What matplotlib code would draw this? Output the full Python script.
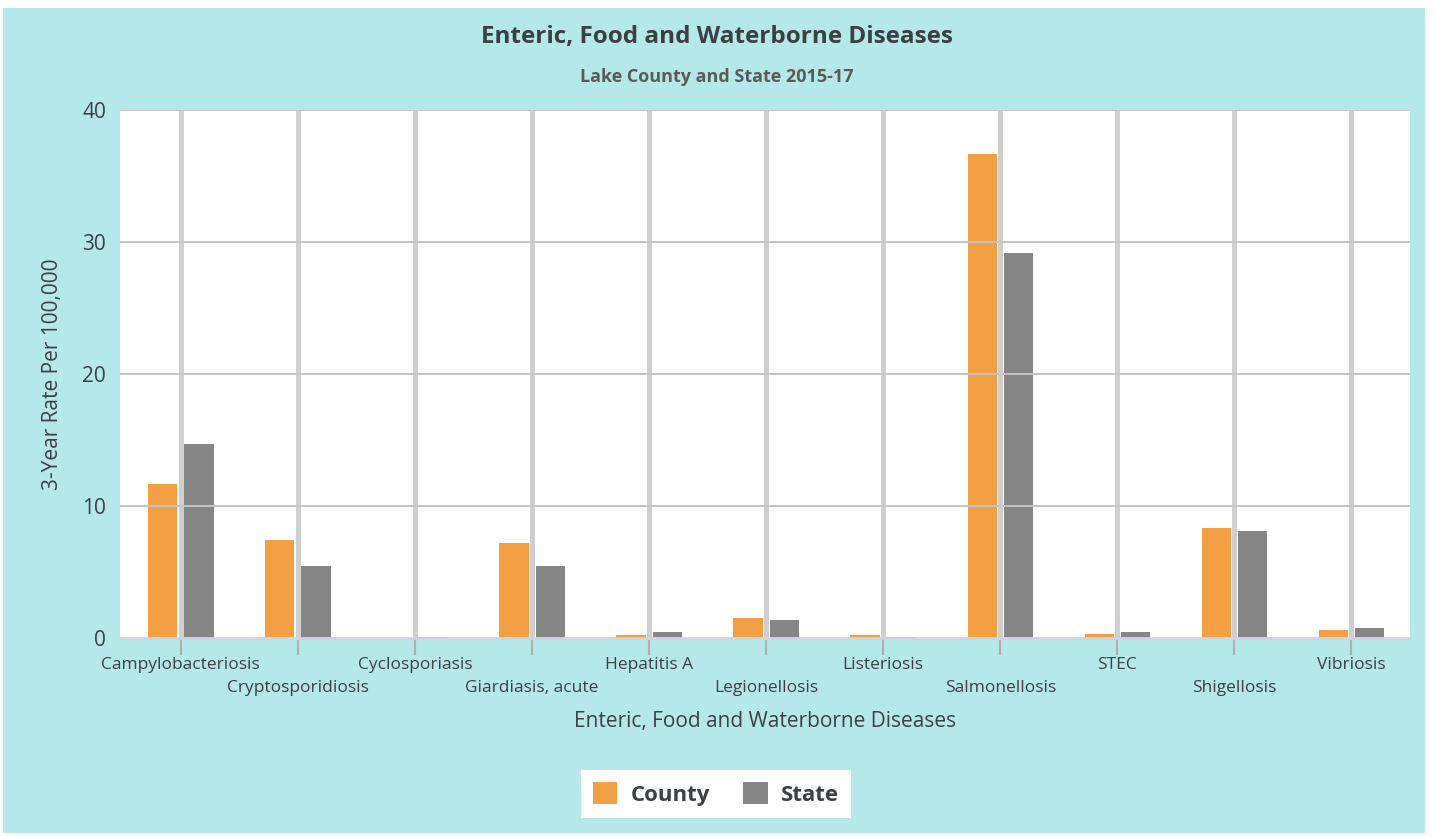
import numpy as np
import matplotlib
matplotlib.use('Agg')
import matplotlib.pyplot as plt
from matplotlib.patches import Rectangle

# data
diseases = ['Campylobacteriosis', 'Cryptosporidiosis', 'Cyclosporiasis', 'Giardiasis, acute',
            'Hepatitis A', 'Legionellosis', 'Listeriosis', 'Salmonellosis', 'STEC',
            'Shigellosis', 'Vibriosis']
county = [11.7, 7.45, 0.0, 7.2, 0.25, 1.5, 0.25, 36.7, 0.3, 8.3, 0.6]
state = [14.7, 5.45, 0.1, 5.45, 0.45, 1.35, 0.1, 29.2, 0.45, 8.1, 0.75]
yticks = [0, 10, 20, 30, 40]

BG = '#b5e8e9'
TXT = '#3b4045'
ORANGE = '#f39a3a'
GREY = '#808080'

plt.rcParams['font.family'] = ['Open Sans', 'DejaVu Sans']

fig = plt.figure(figsize=(14.34, 8.36), dpi=100)
fig.patch.set_facecolor('white')
fig.add_artist(Rectangle((3 / 1434, 3 / 836), 1422 / 1434, 825 / 836,
                         transform=fig.transFigure, facecolor=BG, edgecolor='none', zorder=-10))

ax = fig.add_axes([120 / 1434, (836 - 638) / 836, 1290 / 1434, 528 / 836])
ax.set_facecolor('white')

x = np.arange(len(diseases))
w = 0.25
ax.bar(x - 0.155, county, width=w, color=ORANGE, alpha=0.95, zorder=2, label='County')
ax.bar(x + 0.155, state, width=w, color=GREY, alpha=0.95, zorder=2, label='State')

for xi in x:
    ax.axvline(xi, color='#cfcfcf', lw=3.6, zorder=1)
for yv in yticks[1:]:
    ax.axhline(yv, color='#c4c4c4', lw=1.4, zorder=3)

ax.set_xlim(-0.52, 10.5)
ax.set_ylim(0, 40)
ax.set_yticks(yticks)
ax.tick_params(axis='y', length=0, pad=10, labelsize=15, labelcolor=TXT)

# staggered category labels
ax.set_xticks(x)
ax.set_xticklabels([''] * len(x))
ax.tick_params(axis='x', length=12, width=1.5, color='#b0b0b0')
xtrans = ax.get_xaxis_transform()
for i, d in enumerate(diseases):
    yoff = -27 / 528 if i % 2 == 0 else -50 / 528
    ax.text(x[i], yoff, d, transform=xtrans, ha='center', va='center',
            fontsize=12.5, color=TXT)

for s in ['top', 'right', 'left']:
    ax.spines[s].set_visible(False)
ax.spines['bottom'].set_color('#d0d4dc')
ax.spines['bottom'].set_linewidth(2)
ax.spines['bottom'].set_zorder(4)

ax.set_ylabel('3-Year Rate Per 100,000', fontsize=15, color=TXT, labelpad=14)
ax.text(0.5, -84 / 528, 'Enteric, Food and Waterborne Diseases', transform=ax.transAxes,
        ha='center', va='center', fontsize=15, color=TXT)

fig.text(0.5, 1 - 37 / 836, 'Enteric, Food and Waterborne Diseases', ha='center', va='center',
         fontsize=17.5, fontweight='bold', color=TXT)
fig.text(0.5, 1 - 77 / 836, 'Lake County and State 2015-17', ha='center', va='center',
         fontsize=13, fontweight='bold', color='#5a5a5a')

leg = fig.legend(loc='center', bbox_to_anchor=(716 / 1434, 1 - 794 / 836), ncol=2,
                 frameon=True, fancybox=False, framealpha=1, handlelength=1.1, handleheight=1.1,
                 columnspacing=1.5, borderpad=0.55, handletextpad=0.6,
                 prop={'size': 16, 'weight': 'bold'})
leg.get_frame().set_facecolor('white')
leg.get_frame().set_edgecolor('none')
for t in leg.get_texts():
    t.set_color(TXT)

fig.savefig('out.png', dpi=100)
